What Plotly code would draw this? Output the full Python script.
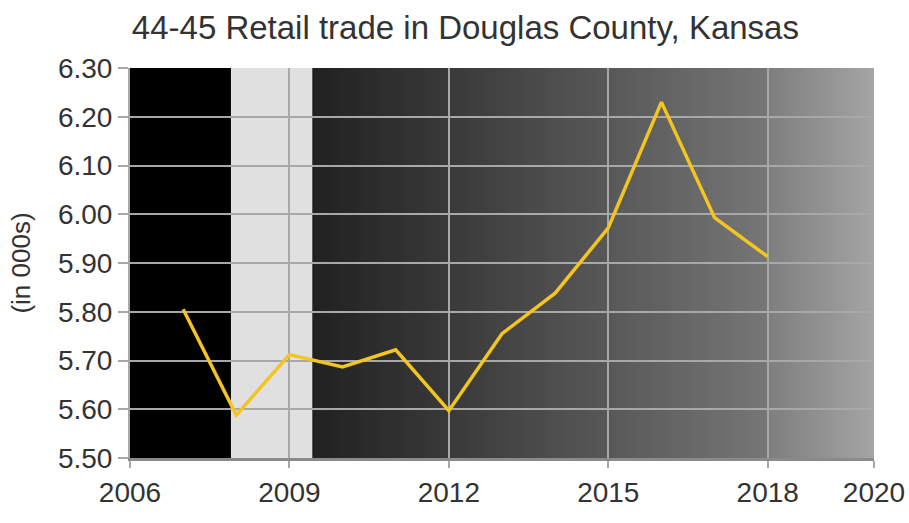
import plotly.graph_objects as go

# Employment, 44-45 Retail trade, Douglas County KS (thousands)
years = [2007, 2008, 2009, 2010, 2011, 2012, 2013, 2014, 2015, 2016, 2017, 2018]
employment = [5.805, 5.588, 5.712, 5.687, 5.722, 5.597, 5.755, 5.838, 5.972, 6.230, 5.993, 5.913]

x_ticks = [2006, 2009, 2012, 2015, 2018, 2020]
y_ticks = [5.50, 5.60, 5.70, 5.80, 5.90, 6.00, 6.10, 6.20, 6.30]

x_min, x_max = 2006, 2020
y_min, y_max = 5.50, 6.30

# Background periods
pre_start, pre_end = 2006, 2007.9
recession_start, recession_end = 2007.9, 2009.43

# Grey ramp for the recovery period (year, grey level)
ramp = [(2009.43, 0x1a), (2012.0, 0x33), (2015.0, 0x53), (2018.0, 0x72),
        (2018.02, 0x7a), (2020.0, 0xa2)]


def grey_at(x):
    for (x0, g0), (x1, g1) in zip(ramp[:-1], ramp[1:]):
        if x0 <= x <= x1:
            t = (x - x0) / (x1 - x0) if x1 > x0 else 0
            return g0 + (g1 - g0) * t
    return ramp[-1][1]


shapes = [
    dict(type="rect", xref="x", yref="y", x0=pre_start, x1=pre_end, y0=y_min, y1=y_max,
         fillcolor="#000000", line_width=0, layer="below"),
    dict(type="rect", xref="x", yref="y", x0=recession_start, x1=recession_end, y0=y_min, y1=y_max,
         fillcolor="#e0e0e0", line_width=0, layer="below"),
]

# Thin strips (about one pixel wide) build the smooth ramp
width_px, m_l, m_r = 909, 130, 35
years_per_px = (x_max - x_min) / (width_px - m_l - m_r)
step = years_per_px
x = ramp[0][0]
while x < x_max - 1e-9:
    x1 = min(x + step, x_max)
    g = int(round(grey_at((x + x1) / 2)))
    shapes.append(dict(type="rect", xref="x", yref="y", x0=x, x1=min(x1 + step * 0.6, x_max),
                       y0=y_min, y1=y_max,
                       fillcolor=f"rgb({g},{g},{g})", line_width=0, layer="below"))
    x = x1

fig = go.Figure()
fig.add_trace(go.Scatter(
    x=years, y=employment, mode="lines",
    line=dict(color="#f4c520", width=3.5),
    hoverinfo="x+y", showlegend=False,
))

font_family = "Liberation Sans, Arial, sans-serif"

fig.update_layout(
    width=width_px, height=523,
    margin=dict(l=m_l, r=m_r, t=68, b=65),
    paper_bgcolor="white",
    plot_bgcolor="rgba(0,0,0,0)",
    shapes=shapes,
    title=dict(text="44-45 Retail trade in Douglas County, Kansas",
               x=0.512, xanchor="center", y=0.948, yanchor="middle",
               font=dict(family=font_family, size=33, color="#333333")),
    xaxis=dict(range=[x_min, x_max], tickvals=x_ticks, ticktext=[str(t) for t in x_ticks],
               showgrid=True, gridcolor="#a8a8a8", gridwidth=2,
               showline=True, linecolor="#8a8a8a", linewidth=3,
               ticks="outside", ticklen=7, tickcolor="#a8a8a8", tickwidth=2,
               tickfont=dict(family=font_family, size=28, color="#333333"),
               zeroline=False, layer="below traces", automargin=False),
    yaxis=dict(range=[y_min, y_max], tickvals=y_ticks, ticktext=[f"{v:.2f}" for v in y_ticks],
               showgrid=True, gridcolor="#a8a8a8", gridwidth=2,
               showline=True, linecolor="#a8a8a8", linewidth=2, mirror=False,
               ticks="outside", ticklen=10, tickcolor="#a8a8a8", tickwidth=2,
               tickfont=dict(family=font_family, size=28, color="#333333"),
               title=dict(text="(in 000s)", standoff=20,
                          font=dict(family=font_family, size=26, color="#333333")),
               zeroline=False, layer="below traces", automargin=False),
)

fig.write_html("out.html")
